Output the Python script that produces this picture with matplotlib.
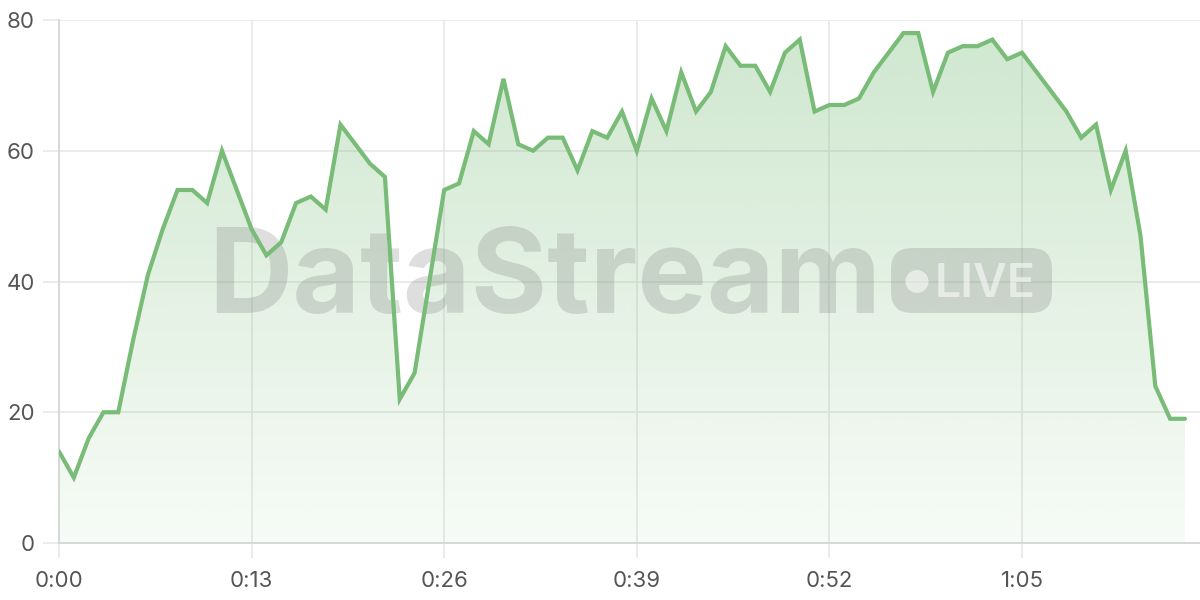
import matplotlib
matplotlib.use("Agg")
import matplotlib.pyplot as plt
import numpy as np
from matplotlib.patches import FancyBboxPatch, Ellipse, Polygon

# ---- data ----
seconds = list(range(77))
values = [14, 10, 16, 20, 20, 31, 41, 48, 54, 54,
          52, 60, 54, 48, 44, 46, 52, 53, 51, 64,
          61, 58, 56, 22, 26, 40, 54, 55, 63, 61,
          71, 61, 60, 62, 62, 57, 63, 62, 66, 60,
          68, 63, 72, 66, 69, 76, 73, 73, 69, 75,
          77, 66, 67, 67, 68, 72, 75, 78, 78, 69,
          75, 76, 76, 77, 74, 75, 72, 69, 66, 62,
          64, 54, 60, 47, 24, 19, 19]
x_ticks = [0, 13, 26, 39, 52, 65]
x_labels = ["0:00", "0:13", "0:26", "0:39", "0:52", "1:05"]
y_ticks = [0, 20, 40, 60, 80]
y_labels = ["0", "20", "40", "60", "80"]

LINE = "#78bc78"
GRID = "#e8e8e8"
SPINE = "#d6d6d6"
TXT = "#555555"

plt.rcParams['font.family'] = ['Inter', 'DejaVu Sans']

fig = plt.figure(figsize=(12, 6), dpi=100)
ax = fig.add_axes([59/1200, 57/600, 1141/1200, 523/600])
ax.set_xlim(0, 1141/14.815)
ax.set_ylim(0, 80)

# gradient fill under curve
x = np.array(seconds, dtype=float)
y = np.array(values, dtype=float)
grad = np.linspace(0, 1, 256).reshape(-1, 1)
rgba = np.zeros((256, 1, 4))
rgba[..., 0] = 120/255
rgba[..., 1] = 188/255
rgba[..., 2] = 120/255
rgba[..., 3] = (0.06 + 0.30 * grad)[:, :]
im = ax.imshow(rgba, extent=[x[0], x[-1], 0, 80], origin='lower', aspect='auto', zorder=1)
poly_pts = np.vstack([np.column_stack([x, y]), [[x[-1], 0], [x[0], 0]]])
clip = Polygon(poly_pts, closed=True, transform=ax.transData, facecolor='none', edgecolor='none')
ax.add_patch(clip)
im.set_clip_path(clip)

# watermark
WM = '#808080'
ax.text(208/1200, (600-313)/600, "DataStream", transform=fig.transFigure,
        fontsize=84, fontweight='bold', family=['Inter', 'DejaVu Sans'],
        color=WM, alpha=0.26, ha='left', va='baseline', zorder=2)
badge = FancyBboxPatch((891/1200, (600-313)/600), 161/1200, 65/600,
                       boxstyle="round,pad=0,rounding_size=0.0175",
                       transform=fig.transFigure, facecolor=WM, alpha=0.26,
                       edgecolor='none', zorder=2, mutation_aspect=2)
ax.add_patch(badge)
ax.add_patch(Ellipse((917/1200, (600-281.5)/600), 23/1200, 23/600, transform=fig.transFigure,
                     facecolor='white', alpha=0.55, edgecolor='none', zorder=2.1))
ax.text(935/1200, (600-297)/600, "LIVE", transform=fig.transFigure,
        fontsize=33.5, fontweight='semibold', family=['Inter', 'DejaVu Sans'],
        color='white', alpha=0.55, ha='left', va='baseline', zorder=2.1)

# line
ax.plot(x, y, color=LINE, lw=3, solid_capstyle='round', solid_joinstyle='miter', zorder=3)

# axes styling
ax.set_xticks(x_ticks)
ax.set_xticklabels(x_labels)
ax.set_yticks(y_ticks)
ax.set_yticklabels(y_labels)
ax.grid(True, color=GRID, lw=1.2, zorder=0)
ax.set_axisbelow(True)
for s in ['top', 'right']:
    ax.spines[s].set_visible(False)
for s in ['left', 'bottom']:
    ax.spines[s].set_color(SPINE)
    ax.spines[s].set_linewidth(1.3)
ax.tick_params(axis='both', colors=GRID, labelcolor=TXT, labelsize=16, width=1.2)
ax.tick_params(axis='x', length=11, pad=9)
ax.tick_params(axis='y', length=11.5, pad=6)

fig.savefig("out.png", dpi=100, facecolor='white')
